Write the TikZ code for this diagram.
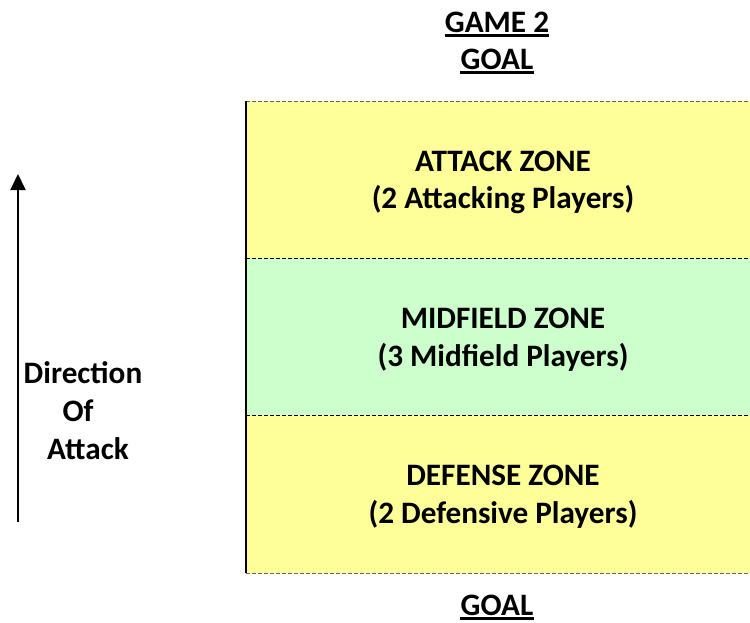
\documentclass[tikz,border=0pt]{standalone}
\usepackage{fontspec}
\setmainfont{Carlito}
\usetikzlibrary{arrows.meta,calc}
\definecolor{zoneyellow}{HTML}{FFFF99}
\definecolor{zonegreen}{HTML}{CCFFCC}
\begin{document}
\begin{tikzpicture}[x=1pt,y=-1pt,
  lbl/.style={anchor=base,inner sep=0pt,font=\fontsize{31.2}{37}\selectfont\bfseries},
  uline/.style={line width=3pt},
  zline/.style={dashed,line width=1pt,dash pattern=on 4pt off 2pt}]
\useasboundingbox (0,0) rectangle (750,622);
% zones
\fill[zoneyellow] (246,101) rectangle (750,258);
\fill[zonegreen] (246,258) rectangle (750,415);
\fill[zoneyellow] (246,415) rectangle (750,573);
\coordinate (tl) at (246,101);
\coordinate (tr) at (750,101);
\coordinate (m1l) at (246,258);
\coordinate (m1r) at (750,258);
\coordinate (m2l) at (246,415);
\coordinate (m2r) at (750,415);
\coordinate (bl) at (246,573);
\coordinate (br) at (750,573);
\draw[zline,gray!80!black] (tl) -- (tr);
\draw[zline,black] (m1l) -- (m1r);
\draw[zline,black] (m2l) -- (m2r);
\draw[zline,gray!80!black] (bl) -- (br);
\draw[line width=2.2pt] (tl) -- (bl);
% titles
\node[lbl] (game) at (497,32) {GAME 2};
\draw[uline] ($(game.base west)+(0,3.5)$) -- ($(game.base east)+(0,3.5)$);
\node[lbl] (goaltop) at (497,69) {GOAL};
\draw[uline] ($(goaltop.base west)+(0,3.5)$) -- ($(goaltop.base east)+(0,3.5)$);
\node[lbl] (goalbot) at (497,615.5) {GOAL};
\draw[uline] ($(goalbot.base west)+(0,3.3)$) -- ($(goalbot.base east)+(0,3.3)$);
% zone texts
\node[lbl] (az) at (503,171) {ATTACK ZONE};
\node[lbl] (ap) at (503,208) {(2 Attacking Players)};
\node[lbl] (mz) at (503,328) {MIDFIELD ZONE};
\node[lbl] (mp) at (503,366) {(3 Midfield Players)};
\node[lbl] (dz) at (503,485) {DEFENSE ZONE};
\node[lbl] (dp) at (503,523) {(2 Defensive Players)};
% direction
\node[lbl] (dir) at (83,383) {Direction};
\node[lbl] (of) at (78,421) {Of};
\node[lbl] (att) at (88,459) {Attack};
\coordinate (as) at (18,522);
\coordinate (ae) at (18,174);
\draw[line width=2pt,-{Triangle[length=16pt,width=15pt]}] (as) -- (ae);
\end{tikzpicture}
\end{document}
